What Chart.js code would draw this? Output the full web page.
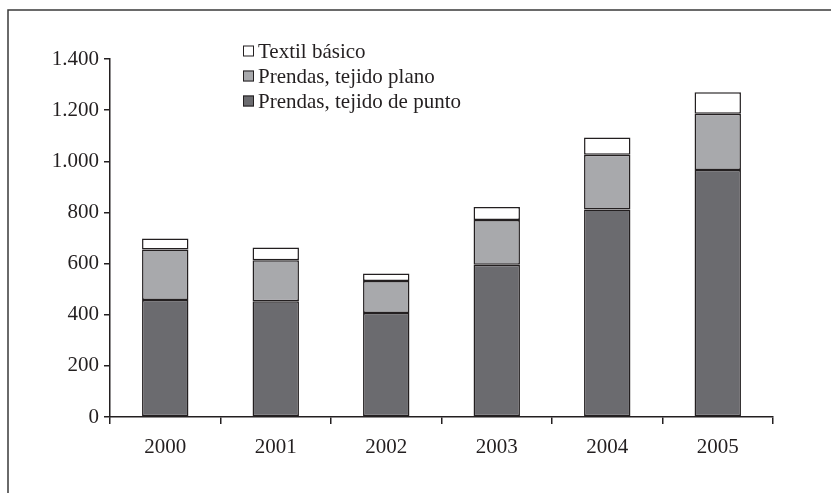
<!DOCTYPE html>
<html>
<head>
<meta charset="utf-8">
<script src="https://cdn.jsdelivr.net/npm/chart.js@4/dist/chart.umd.min.js"></script>
<style>
  html, body { margin: 0; padding: 0; background: #fff; }
  #wrap { position: relative; width: 831px; height: 493px; }
  canvas { display: block; }
</style>
</head>
<body>
<div id="wrap"><canvas id="c" width="831" height="493"></canvas></div>
<script>
// Years on the category axis
const years = ['2000', '2001', '2002', '2003', '2004', '2005'];

// Stacked series (bottom to top)
const tejidoPunto = [458, 453, 407, 595, 811, 966];
const tejidoPlano = [197, 160, 125, 175, 215, 220];
const textilBasico = [43, 50, 29, 51, 67, 84];

const seriesNames = ['Prendas, tejido de punto', 'Prendas, tejido plano', 'Textil básico'];

// Value axis ticks
const yTicks = [0, 200, 400, 600, 800, 1000, 1200, 1400];

const ink = '#231f20';
const serif = '"Liberation Serif", "Times New Roman", serif';

function fmt(v) {
  return String(v).replace(/\B(?=(\d{3})+(?!\d))/g, '.');
}

// Outer frame (top and left edges) and the legend block
const decor = {
  id: 'decor',
  afterDraw(chart) {
    const ctx = chart.ctx;
    ctx.save();
    ctx.strokeStyle = '#3a3a3a';
    ctx.lineWidth = 1.5;
    ctx.beginPath();
    ctx.moveTo(8, 493);
    ctx.lineTo(8, 10);
    ctx.lineTo(831, 10);
    ctx.stroke();

    // legend, top entry first
    const order = [2, 1, 0];
    const x0 = 243, y0 = 51, step = 25, box = 11;
    ctx.font = '21px ' + serif;
    ctx.textBaseline = 'middle';
    ctx.textAlign = 'left';
    order.forEach((di, i) => {
      const ds = chart.data.datasets[di];
      const y = y0 + i * step;
      ctx.fillStyle = ds.backgroundColor;
      ctx.fillRect(x0, y - box / 2, box, box);
      ctx.strokeStyle = ink;
      ctx.lineWidth = 1;
      ctx.strokeRect(x0 + 0.5, y - box / 2 + 0.5, box - 1, box - 1);
      ctx.fillStyle = ink;
      ctx.fillText(ds.label, x0 + 15, y + 1);
    });
    ctx.restore();
  }
};

new Chart(document.getElementById('c'), {
  type: 'bar',
  data: {
    labels: years,
    datasets: [
      { label: seriesNames[0], data: tejidoPunto, backgroundColor: '#6b6b6f' },
      { label: seriesNames[1], data: tejidoPlano, backgroundColor: '#a8a9ac' },
      { label: seriesNames[2], data: textilBasico, backgroundColor: '#ffffff' }
    ].map(d => Object.assign(d, {
      borderColor: ink,
      borderWidth: 1.5,
      borderSkipped: false,
      barPercentage: 0.42,
      categoryPercentage: 1.0
    }))
  },
  options: {
    responsive: false,
    animation: false,
    devicePixelRatio: 1,
    layout: { padding: { left: 8, right: 58, top: 59, bottom: 0 } },
    plugins: { legend: { display: false }, tooltip: { enabled: false } },
    scales: {
      x: {
        stacked: true,
        grid: { display: true, drawOnChartArea: false, offset: true, tickLength: 7, color: ink, lineWidth: 1.5 },
        border: { display: true, color: ink, width: 1.5 },
        ticks: { color: ink, font: { family: serif, size: 21 }, padding: 11 },
        afterFit(s) { s.height = 76; }
      },
      y: {
        stacked: true,
        min: 0,
        max: 1400,
        afterBuildTicks(s) { s.ticks = yTicks.map(v => ({ value: v })); },
        grid: { display: true, drawOnChartArea: false, tickLength: 6, color: ink, lineWidth: 1.5 },
        border: { display: true, color: ink, width: 1.5 },
        ticks: { color: ink, font: { family: serif, size: 21 }, padding: 5, callback: v => fmt(v) },
        afterFit(s) { s.width = 102; }
      }
    }
  },
  plugins: [decor]
});
</script>
</body>
</html>
